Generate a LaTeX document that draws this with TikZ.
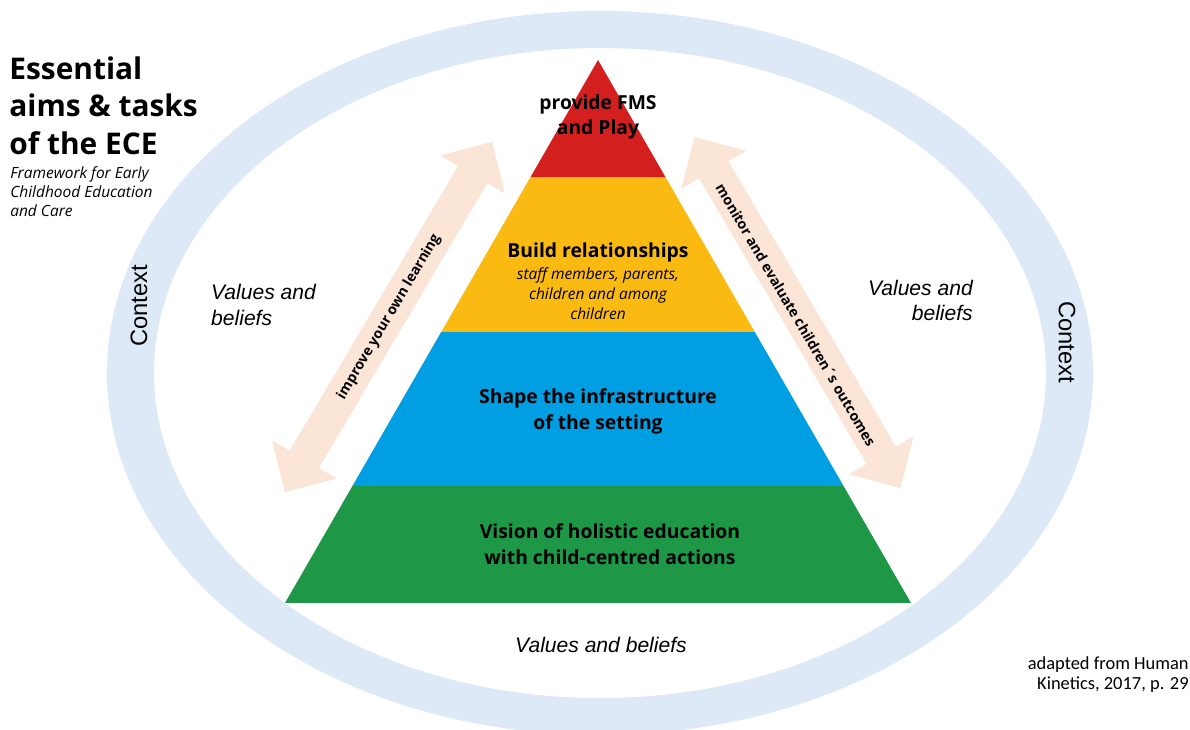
\documentclass[tikz,border=0pt]{standalone}
\usepackage{fontspec}
\setmainfont{Open Sans}
\newfontfamily\arialfont{Liberation Sans}
\newfontfamily\calibrifont{Carlito}
\usetikzlibrary{calc}
\definecolor{ringblue}{RGB}{221,233,246}
\definecolor{arrowpeach}{RGB}{251,229,214}
\definecolor{fmsred}{RGB}{212,31,31}
\definecolor{relyellow}{RGB}{251,186,18}
\definecolor{infblue}{RGB}{0,158,226}
\definecolor{visgreen}{RGB}{30,151,70}

\begin{document}
\begin{tikzpicture}[x=0.02cm,y=0.02cm,
	layertext/.style={font=\bfseries\fontsize{11}{14.7}\selectfont, align=center},
	values/.style={font=\arialfont\itshape\fontsize{12}{14.7}\selectfont},
	context/.style={font=\arialfont\fontsize{13.5}{16}\selectfont},
	arrowtext/.style={font=\bfseries\fontsize{8}{10}\selectfont}]
			\useasboundingbox (0,0) rectangle (1190,730);
			\clip (0,0) rectangle (1190,730);
			\fill[ringblue, even odd rule] (600,357) ellipse [x radius=493, y radius=362]
				(600,357) ellipse [x radius=446, y radius=325];
			\node[context, rotate=90] (ctxleft) at (139,424) {Context};
			\node[context, rotate=-90] (ctxright) at (1067,388) {Context};

			\coordinate (apex) at (598,670);
			\coordinate (bl) at (285,127);
			\coordinate (br) at (911,127);
			\fill[visgreen] ($(apex)!0.7845!(bl)$) -- (bl) -- (br) -- ($(apex)!0.7845!(br)$) -- cycle;
			\fill[infblue] ($(apex)!0.5009!(bl)$) -- ($(apex)!0.7845!(bl)$) -- ($(apex)!0.7845!(br)$) -- ($(apex)!0.5009!(br)$) -- cycle;
			\fill[relyellow] ($(apex)!0.2155!(bl)$) -- ($(apex)!0.5009!(bl)$) -- ($(apex)!0.5009!(br)$) -- ($(apex)!0.2155!(br)$) -- cycle;
			\fill[fmsred] (apex) -- ($(apex)!0.2155!(bl)$) -- ($(apex)!0.2155!(br)$) -- cycle;

			\node[layertext] (fms) at (598,613) {provide FMS\\and Play};
			\node[layertext] (build) at (598,478) {Build relationships};
			\node[font=\itshape\fontsize{8.8}{11.3}\selectfont, align=center] (partners) at (598,436) {staff members, parents,\\children and among\\children};
			\node[layertext] (shape) at (598,318.5) {Shape the infrastructure\\of the setting};
			\node[layertext] (vision) at (610,186) {Vision of holistic education\\with child-centred actions};

			\begin{scope}[shift={(388.5,413)}, rotate=59.4]
				\fill[arrowpeach] (-203.5,0) -- (-165.5,37.5) -- (-165.5,17) -- (165.5,17) -- (165.5,37.5) -- (203.5,0)
					-- (165.5,-37.5) -- (165.5,-17) -- (-165.5,-17) -- (-165.5,-37.5) -- cycle;
			\end{scope}
			\node[arrowtext, rotate=59.4] (learning) at (389,413) {improve your own learning};
			\begin{scope}[shift={(797.5,417.5)}, rotate=-59.6]
				\fill[arrowpeach] (-203.5,0) -- (-165.5,37.5) -- (-165.5,17) -- (165.5,17) -- (165.5,37.5) -- (203.5,0)
					-- (165.5,-37.5) -- (165.5,-17) -- (-165.5,-17) -- (-165.5,-37.5) -- cycle;
			\end{scope}
			\node[arrowtext, rotate=-59.6] (monitor) at (796,415) {monitor and evaluate children´s outcomes};

			\node[values, anchor=west, align=left] (valleft) at (205,425) {Values and\\beliefs};
			\node[values, anchor=east, align=right] (valright) at (979,429.5) {Values and\\beliefs};
			\node[values] (valbottom) at (601,85) {Values and beliefs};

			\node[anchor=north west, inner sep=0, align=left, font=\bfseries\fontsize{17}{21.5}\selectfont] (title) at (9,674) {Essential\\aims \& tasks\\of the ECE};
			\node[anchor=north west, inner sep=0, align=left, font=\itshape\fontsize{8.8}{10.8}\selectfont] (subtitle) at (10,564) {Framework for Early\\Childhood Education\\and Care};
			\node[anchor=north east, inner sep=0, align=right, font=\calibrifont\fontsize{10.5}{11.5}\selectfont] (source) at (1189,74) {adapted from Human\\Kinetics, 2017, p. 29};
		\end{tikzpicture}
\end{document}
